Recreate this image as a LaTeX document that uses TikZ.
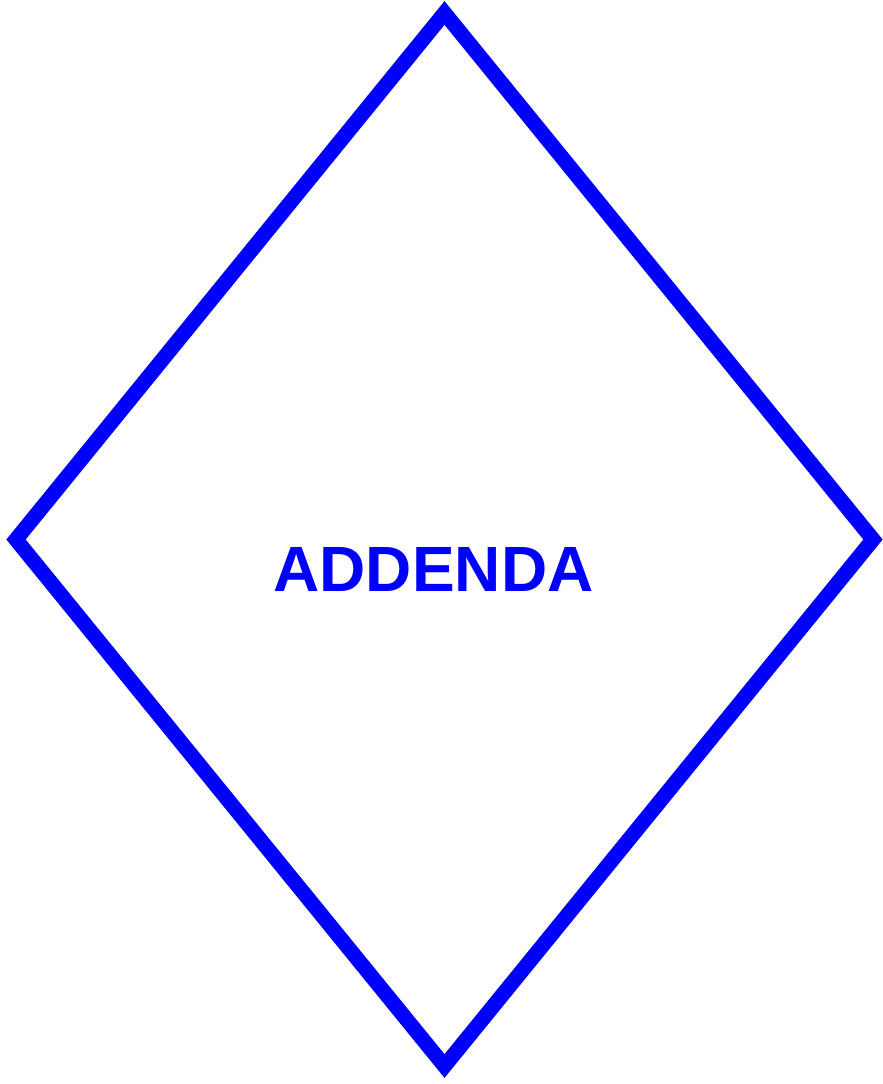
\documentclass[tikz,border=0pt]{standalone}
\usepackage{fontspec}
\setmainfont{Liberation Sans}
\definecolor{dblue}{RGB}{0,0,255}
\begin{document}
\begin{tikzpicture}[x=1pt,y=-1pt,
  edge/.style={draw=dblue,line width=15pt,line join=miter},
  lbl/.style={text=dblue,font=\fontsize{64}{64}\selectfont\bfseries,inner sep=0pt,anchor=base}]
\useasboundingbox (0,0) rectangle (883,1084);
\coordinate (t) at (444.5,13);
\coordinate (l) at (16,539.5);
\coordinate (b) at (444.5,1066);
\coordinate (r) at (873,539.5);
\draw[edge] (t) -- (r) -- (b) -- (l) -- cycle;
\node[lbl] (txt) at (433.5,591.5) {ADDENDA};
\end{tikzpicture}
\end{document}
